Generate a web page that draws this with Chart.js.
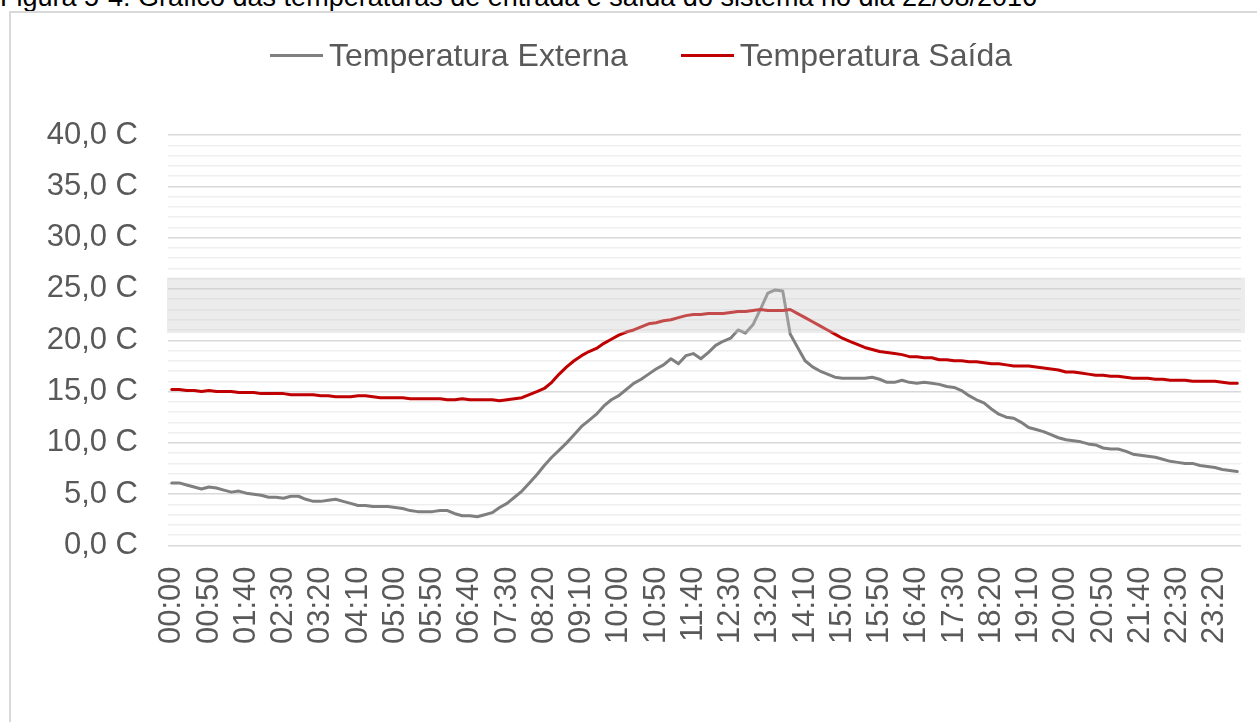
<!DOCTYPE html>
<html lang="pt">
<head>
<meta charset="utf-8">
<title>Temperaturas de entrada e saída</title>
<script src="https://cdn.jsdelivr.net/npm/chart.js@4.4.3/dist/chart.umd.min.js"></script>
<style>
  html, body {
    margin: 0;
    padding: 0;
    width: 1257px;
    height: 722px;
    overflow: hidden;
    background: #fff;
    font-family: "Liberation Sans", Arial, sans-serif;
  }
  #titulo {
    position: absolute;
    left: 0;
    top: -16px;
    font-size: 27px;
    line-height: 27px;
    color: #000;
    white-space: nowrap;
  }
  #moldura {
    position: absolute;
    left: 9px;
    top: 11px;
    width: 1300px;
    height: 800px;
    border: 2px solid #d9d9d9;
    box-sizing: border-box;
  }
  #grafico {
    position: absolute;
    left: 0;
    top: 0;
  }
  #legenda {
    position: absolute;
    left: 270px;
    top: 37px;
    height: 36px;
    display: flex;
    align-items: center;
    font-size: 32px;
    color: #595959;
    white-space: nowrap;
  }
  #legenda .item { display: flex; align-items: center; margin-right: 53px; }
  #legenda .traco { width: 53px; height: 3px; margin-right: 6px; }
</style>
</head>
<body>
<div id="titulo">Figura 5-4: Gráfico das temperaturas de entrada e saída do sistema no dia 22/08/2016</div>
<div id="moldura"></div>
<canvas id="grafico" width="1257" height="722"></canvas>
<div id="legenda">
  <div class="item"><span class="traco" style="background:#7f7f7f"></span>Temperatura Externa</div>
  <div class="item"><span class="traco" style="background:#c00000"></span>Temperatura Saída</div>
</div>
<script>
// horários de 10 em 10 minutos, 00:00 até 23:50
const horarios = [];
for (let h = 0; h < 24; h++) {
  for (let m = 0; m < 60; m += 10) {
    horarios.push(String(h).padStart(2, "0") + ":" + String(m).padStart(2, "0"));
  }
}

const tempExterna = [
  6.1, 6.1, 5.9, 5.7, 5.5, 5.7, 5.6, 5.4, 5.2, 5.3, 5.1, 5.0, 4.9, 4.7, 4.7, 4.6,
  4.8, 4.8, 4.5, 4.3, 4.3, 4.4, 4.5, 4.3, 4.1, 3.9, 3.9, 3.8, 3.8, 3.8, 3.7, 3.6,
  3.4, 3.3, 3.3, 3.3, 3.4, 3.4, 3.1, 2.9, 2.9, 2.8, 3.0, 3.2, 3.7, 4.1, 4.7, 5.3,
  6.1, 6.9, 7.8, 8.6, 9.3, 10.0, 10.8, 11.6, 12.2, 12.8, 13.6, 14.2, 14.6, 15.2, 15.8, 16.2,
  16.7, 17.2, 17.6, 18.2, 17.7, 18.5, 18.7, 18.2, 18.8, 19.5, 19.9, 20.2, 21.0, 20.7, 21.5, 23.0,
  24.6, 24.9, 24.8, 20.6, 19.3, 18.0, 17.4, 17.0, 16.7, 16.4, 16.3, 16.3, 16.3, 16.3, 16.4, 16.2,
  15.9, 15.9, 16.1, 15.9, 15.8, 15.9, 15.8, 15.7, 15.5, 15.4, 15.1, 14.6, 14.2, 13.9, 13.3, 12.8,
  12.5, 12.4, 12.0, 11.5, 11.3, 11.1, 10.8, 10.5, 10.3, 10.2, 10.1, 9.9, 9.8, 9.5, 9.4, 9.4,
  9.2, 8.9, 8.8, 8.7, 8.6, 8.4, 8.2, 8.1, 8.0, 8.0, 7.8, 7.7, 7.6, 7.4, 7.3, 7.2
];

const tempSaida = [
  15.2, 15.2, 15.1, 15.1, 15.0, 15.1, 15.0, 15.0, 15.0, 14.9, 14.9, 14.9, 14.8, 14.8, 14.8, 14.8,
  14.7, 14.7, 14.7, 14.7, 14.6, 14.6, 14.5, 14.5, 14.5, 14.6, 14.6, 14.5, 14.4, 14.4, 14.4, 14.4,
  14.3, 14.3, 14.3, 14.3, 14.3, 14.2, 14.2, 14.3, 14.2, 14.2, 14.2, 14.2, 14.1, 14.2, 14.3, 14.4,
  14.7, 15.0, 15.3, 15.9, 16.7, 17.4, 18.0, 18.5, 18.9, 19.2, 19.7, 20.1, 20.5, 20.8, 21.0, 21.3,
  21.6, 21.7, 21.9, 22.0, 22.2, 22.4, 22.5, 22.5, 22.6, 22.6, 22.6, 22.7, 22.8, 22.8, 22.9, 23.0,
  22.9, 22.9, 22.9, 23.0, 22.6, 22.2, 21.8, 21.4, 21.0, 20.6, 20.2, 19.9, 19.6, 19.3, 19.1, 18.9,
  18.8, 18.7, 18.6, 18.4, 18.4, 18.3, 18.3, 18.1, 18.1, 18.0, 18.0, 17.9, 17.9, 17.8, 17.7, 17.7,
  17.6, 17.5, 17.5, 17.5, 17.4, 17.3, 17.2, 17.1, 16.9, 16.9, 16.8, 16.7, 16.6, 16.6, 16.5, 16.5,
  16.4, 16.3, 16.3, 16.3, 16.2, 16.2, 16.1, 16.1, 16.1, 16.0, 16.0, 16.0, 16.0, 15.9, 15.8, 15.8
];

// faixa de conforto destacada no fundo
const faixaMin = 20.7;
const faixaMax = 26.1;

const eixoY = { min: 0, max: 40, passo: 1, principal: 5 };

const fonteEixo = { family: "'Liberation Sans', Arial, sans-serif", size: 31 };

function formataTemp(v) {
  return v.toFixed(1).replace(".", ",") + " C";
}

const faixaPlugin = {
  id: "faixa",
  afterDatasetsDraw(chart) {
    const { ctx, chartArea, scales } = chart;
    const topo = scales.y.getPixelForValue(faixaMax);
    const base = scales.y.getPixelForValue(faixaMin);
    ctx.save();
    ctx.fillStyle = "rgba(203,203,203,0.37)";
    ctx.fillRect(chartArea.left - 1, topo, chartArea.right - chartArea.left + 5, base - topo);
    ctx.restore();
  },
};

new Chart(document.getElementById("grafico"), {
  type: "line",
  data: {
    labels: horarios,
    datasets: [
      {
        label: "Temperatura Externa",
        data: tempExterna,
        borderColor: "#7f7f7f",
        backgroundColor: "#7f7f7f",
        order: 1,
      },
      {
        label: "Temperatura Saída",
        data: tempSaida,
        borderColor: "#c00000",
        backgroundColor: "#c00000",
        order: 0,
      },
    ],
  },
  options: {
    responsive: false,
    animation: false,
    devicePixelRatio: 1,
    layout: { padding: { top: 135, right: 16, bottom: 0, left: 0 } },
    elements: {
      point: { radius: 0 },
      line: { borderWidth: 3, tension: 0, borderJoinStyle: "round", borderCapStyle: "round" },
    },
    plugins: {
      legend: { display: false },
      tooltip: { enabled: false },
    },
    scales: {
      x: {
        offset: true,
        grid: { display: false, drawTicks: false },
        border: { display: false },
        ticks: {
          autoSkip: false,
          minRotation: 90,
          maxRotation: 90,
          padding: 21,
          color: "#595959",
          font: fonteEixo,
          // só um rótulo a cada 50 minutos; os demais ficam sem texto
          callback: (v, i) => (i % 5 === 0 ? horarios[i] : null),
        },
        afterFit(scale) {
          scale.height = 176.5;
          scale.paddingLeft = 0;
          scale.paddingRight = 0;
        },
      },
      y: {
        min: eixoY.min,
        max: eixoY.max,
        border: { display: false },
        grid: {
          drawTicks: false,
          lineWidth: 1.5,
          color: (c) => (c.tick && c.tick.value % eixoY.principal === 0 ? "#d9d9d9" : "#efefef"),
        },
        ticks: {
          stepSize: eixoY.passo,
          maxTicksLimit: 41,
          autoSkip: false,
          padding: 30,
          color: "#595959",
          font: fonteEixo,
          callback: (v) => (v % eixoY.principal === 0 ? formataTemp(v) : ""),
        },
        afterFit(scale) {
          scale.width = 168;
        },
      },
    },
  },
  plugins: [faixaPlugin],
});
</script>
</body>
</html>
